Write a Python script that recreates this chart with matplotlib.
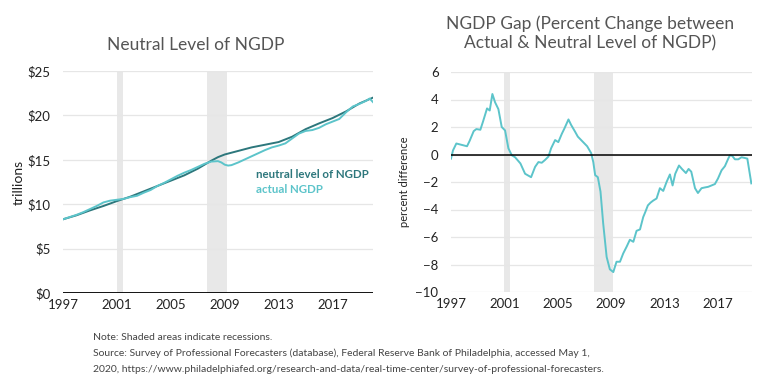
import numpy as np
import matplotlib
matplotlib.use("Agg")
import matplotlib.pyplot as plt

# ---- data ----
# actual NGDP, trillions of dollars
actual_year = [1997.0, 1997.5, 1998.0, 1998.5, 1999.0, 1999.5, 2000.0, 2000.5,
               2001.0, 2001.5, 2002.0, 2002.5, 2003.0, 2003.5, 2004.0, 2004.5,
               2005.0, 2005.5, 2006.0, 2006.5, 2007.0, 2007.5, 2008.0, 2008.5,
               2008.75, 2009.0, 2009.25, 2009.5, 2010.0, 2010.5, 2011.0, 2011.5,
               2012.0, 2012.5, 2013.0, 2013.5, 2014.0, 2014.5, 2015.0, 2015.5,
               2016.0, 2016.5, 2017.0, 2017.5, 2018.0, 2018.5, 2019.0, 2019.5,
               2019.75, 2020.0]
actual_ngdp = [8.3, 8.55, 8.8, 9.1, 9.45, 9.8, 10.2, 10.4,
               10.5, 10.6, 10.8, 10.95, 11.3, 11.6, 12.05, 12.4,
               12.8, 13.2, 13.55, 13.85, 14.2, 14.55, 14.8, 14.85,
               14.7, 14.45, 14.35, 14.4, 14.7, 15.05, 15.4, 15.75,
               16.1, 16.4, 16.6, 16.85, 17.4, 17.95, 18.25, 18.35,
               18.6, 19.0, 19.3, 19.6, 20.35, 21.0, 21.3, 21.65,
               21.9, 21.5]

# neutral level of NGDP, trillions of dollars
neutral_year = [1997.0, 1998.0, 1999.0, 2000.0, 2001.0, 2002.0, 2003.0, 2004.0,
                2005.0, 2006.0, 2007.0, 2007.5, 2008.0, 2008.5, 2009.0, 2009.5,
                2010.0, 2011.0, 2012.0, 2013.0, 2014.0, 2015.0, 2016.0, 2017.0,
                2018.0, 2019.0, 2020.0]
neutral_ngdp = [8.3, 8.75, 9.3, 9.8, 10.35, 10.85, 11.45, 12.05,
                12.65, 13.25, 14.0, 14.45, 14.9, 15.3, 15.6, 15.8,
                16.0, 16.4, 16.7, 17.0, 17.6, 18.45, 19.1, 19.7,
                20.45, 21.35, 22.0]

# NGDP gap, percent difference
gap_year = [1997.0, 1997.15, 1997.4, 1997.8, 1998.2, 1998.4, 1998.7, 1998.9,
            1999.2, 1999.4, 1999.7, 1999.9, 2000.1, 2000.3, 2000.55, 2000.8,
            2001.05, 2001.3, 2001.55, 2001.8, 2002.2, 2002.55, 2003.0, 2003.3,
            2003.55, 2003.8, 2004.04, 2004.3, 2004.5, 2004.8, 2005.04, 2005.3,
            2005.5, 2005.8, 2006.0, 2006.3, 2006.5, 2006.9, 2007.2, 2007.5,
            2007.66, 2007.8, 2008.0, 2008.2, 2008.4, 2008.66, 2008.9, 2009.16,
            2009.4, 2009.66, 2009.9, 2010.16, 2010.4, 2010.66, 2010.9, 2011.16,
            2011.4, 2011.55, 2011.75, 2011.95, 2012.15, 2012.4, 2012.65, 2012.9,
            2013.15, 2013.4, 2013.6, 2013.8, 2014.08, 2014.3, 2014.6, 2014.8,
            2015.0, 2015.28, 2015.5, 2015.77, 2016.0, 2016.27, 2016.52, 2016.77,
            2017.0, 2017.27, 2017.52, 2017.77, 2017.9, 2018.07, 2018.27, 2018.52,
            2018.77, 2019.0, 2019.2, 2019.5]
gap_pct = [-0.3, 0.3, 0.8, 0.7, 0.6, 1.0, 1.7, 1.85,
           1.8, 2.4, 3.35, 3.2, 4.4, 3.8, 3.3, 2.0,
           1.75, 0.45, -0.05, -0.2, -0.65, -1.4, -1.65, -0.9,
           -0.55, -0.6, -0.4, -0.15, 0.45, 1.05, 0.9, 1.5,
           1.9, 2.55, 2.15, 1.65, 1.3, 0.9, 0.6, 0.1,
           -0.55, -1.5, -1.65, -2.7, -5.0, -7.45, -8.35, -8.55,
           -7.8, -7.8, -7.2, -6.7, -6.2, -6.35, -5.55, -5.45,
           -4.55, -4.2, -3.7, -3.5, -3.35, -3.2, -2.45, -2.65,
           -2.0, -1.45, -2.25, -1.4, -0.8, -1.05, -1.35, -1.05,
           -1.25, -2.45, -2.8, -2.45, -2.4, -2.35, -2.25, -2.15,
           -1.75, -1.15, -0.85, -0.3, -0.05, -0.1, -0.35, -0.35,
           -0.2, -0.25, -0.3, -2.1]

# recessions (start, end)
recessions = [(2001.0, 2001.45), (2007.7, 2009.15)]

year_ticks = [1997, 2001, 2005, 2009, 2013, 2017]
level_ticks = [0, 5, 10, 15, 20, 25]
level_labels = ["$0", "$5", "$10", "$15", "$20", "$25"]
gap_ticks = [-10, -8, -6, -4, -2, 0, 2, 4, 6]

# ---- style ----
plt.rcParams['font.family'] = ['Lato', 'DejaVu Sans']
DARK = "#2d777c"
LIGHT = "#5cc4ca"
SHADE = "#e8e8e8"
GRID = "#e6e6e6"
TXT = "#222222"

fig = plt.figure(figsize=(7.68, 3.89), dpi=100)
ax1 = fig.add_axes([63/768, 1 - 293/389, 310/768, 222/389])
ax2 = fig.add_axes([451/768, 1 - 292/389, 301/768, 220/389])

for ax in (ax1, ax2):
    for s in ax.spines.values():
        s.set_visible(False)
    ax.grid(axis='y', color=GRID, lw=0.9)
    ax.set_axisbelow(True)
    ax.tick_params(length=0, labelsize=9.5, colors=TXT, pad=4)
    ax.set_xticks(year_ticks)
    for a, b in recessions:
        ax.axvspan(a, b, color=SHADE, lw=0, zorder=0.5)

# left: levels
ax1.plot(neutral_year, neutral_ngdp, color=DARK, lw=1.4, zorder=3)
ax1.plot(actual_year, actual_ngdp, color=LIGHT, lw=1.4, zorder=3)
ax1.set_xlim(1997, 2020)
ax1.set_ylim(0, 25)
ax1.set_yticks(level_ticks)
ax1.set_yticklabels(level_labels)
ax1.axhline(0, color="black", lw=1.3, zorder=4)
ax1.tick_params(axis='y', pad=9)
ax1.set_ylabel("trillions", fontsize=10, color=TXT, labelpad=2)
ax1.text(0.623, 0.532, "neutral level of NGDP", transform=ax1.transAxes,
         color=DARK, fontsize=8.3, fontweight='bold', va='center')
ax1.text(0.623, 0.468, "actual NGDP", transform=ax1.transAxes,
         color=LIGHT, fontsize=8.3, fontweight='bold', va='center')

# right: gap
ax2.plot(gap_year, gap_pct, color=LIGHT, lw=1.4, zorder=3)
ax2.set_xlim(1997, 2019.55)
ax2.set_ylim(-10, 6)
ax2.set_yticks(gap_ticks)
ax2.axhline(0, color="black", lw=1.1, zorder=4)
ax2.tick_params(axis='y', pad=9)
ax2.set_ylabel("percent difference", fontsize=8, color=TXT, labelpad=4)

# titles
fig.text(196/768, 1 - 45/389, "Neutral Level of NGDP", ha='center', va='center',
         fontsize=12.5, color="#555555")
fig.text(590/768, 1 - 33/389,
         "NGDP Gap (Percent Change between\nActual & Neutral Level of NGDP)",
         ha='center', va='center', fontsize=12.5, color="#555555", linespacing=1.25)

# notes
notes = ("Note: Shaded areas indicate recessions.\n"
         "Source: Survey of Professional Forecasters (database), Federal Reserve Bank of Philadelphia, accessed May 1,\n"
         "2020, https://www.philadelphiafed.org/research-and-data/real-time-center/survey-of-professional-forecasters.")
fig.text(93/768, 1 - 333/389, notes, ha='left', va='top', fontsize=7.5,
         color="#444444", linespacing=1.9)

fig.savefig("out.png", dpi=100)
